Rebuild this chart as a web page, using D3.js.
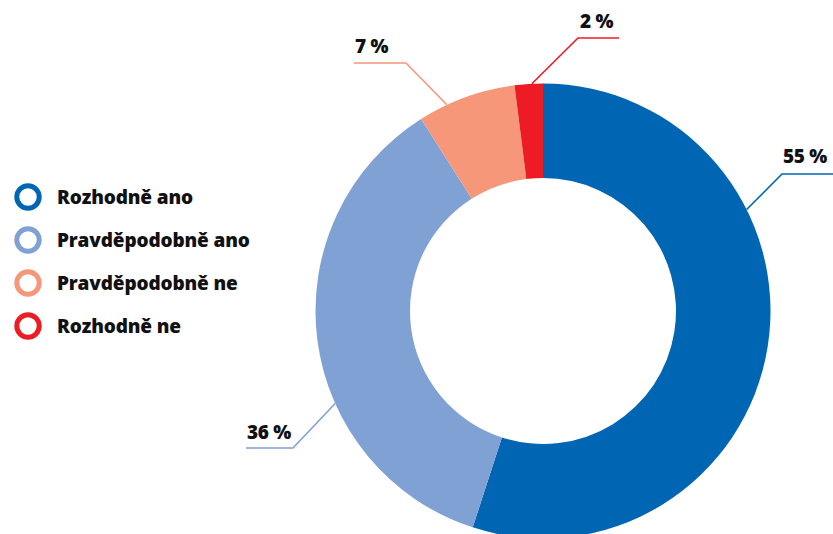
<!DOCTYPE html>
<html>
<head>
<meta charset="utf-8">
<script src="https://cdn.jsdelivr.net/npm/d3@7"></script>
<style>
  html, body { margin: 0; padding: 0; background: #fff; }
  svg { display: block; }
  text { font-family: "Open Sans", Lato, sans-serif; font-weight: 800; fill: #111; }
</style>
</head>
<body>
<svg id="chart" width="833" height="534"></svg>
<script>
// ---- data ----
const categories = ["Rozhodně ano", "Pravděpodobně ano", "Pravděpodobně ne", "Rozhodně ne"];
const values = [55, 36, 7, 2];
const valueLabels = ["55 %", "36 %", "7 %", "2 %"];
const colors = ["#0066B3", "#80A1D4", "#F6977A", "#ED1C24"];

// ---- layout ----
const W = 833, H = 534;
const cx = 543, cy = 311, rOuter = 227.5, rInner = 133;
// leader layout per slice: anchor angle on the outer rim (deg, clockwise from top), elbow, end x, text position
const leaders = [
  { angle: 63.5, elbow: [782, 174], endX: 833, textX: 783, textY: 163 },
  { angle: 246,  elbow: [293, 448], endX: 246, textX: 247, textY: 439 },
  { angle: 335,  elbow: [406, 63],  endX: 354, textX: 355, textY: 53 },
  { angle: 357.2,elbow: [578, 38],  endX: 619, textX: 580, textY: 28 }
];

const svg = d3.select("#chart");
const data = categories.map((c, i) => ({ category: c, value: values[i], label: valueLabels[i], color: colors[i] }));

const pie = d3.pie().value(d => d.value).sort(null);
const arc = d3.arc().innerRadius(rInner).outerRadius(rOuter);

const g = svg.append("g").attr("transform", `translate(${cx},${cy})`);
g.selectAll("path")
  .data(pie(data))
  .join("path")
  .attr("d", arc)
  .attr("fill", d => d.data.color);

// leaders + labels
const lg = svg.append("g");
data.forEach((d, i) => {
  const L = leaders[i];
  const a = L.angle * Math.PI / 180;
  const sx = cx + rOuter * Math.sin(a), sy = cy - rOuter * Math.cos(a);
  lg.append("polyline")
    .attr("points", `${sx},${sy} ${L.elbow[0]},${L.elbow[1]} ${L.endX},${L.elbow[1]}`)
    .attr("fill", "none")
    .attr("stroke", d.color)
    .attr("stroke-width", 1.6);
  lg.append("text")
    .attr("x", L.textX).attr("y", L.textY)
    .attr("font-size", 19)
    .attr("letter-spacing", -0.3)
    .text(d.label);
});

// legend
const legend = svg.append("g").attr("transform", "translate(28,197)");
const items = legend.selectAll("g").data(data).join("g")
  .attr("transform", (d, i) => `translate(0,${i * 43})`);
items.append("circle")
  .attr("r", 11.2)
  .attr("fill", "none")
  .attr("stroke", d => d.color)
  .attr("stroke-width", 5);
items.append("text")
  .attr("x", 29)
  .attr("y", 7)
  .attr("font-size", 19)
  .attr("letter-spacing", -0.15)
  .text(d => d.category);
</script>
</body>
</html>
